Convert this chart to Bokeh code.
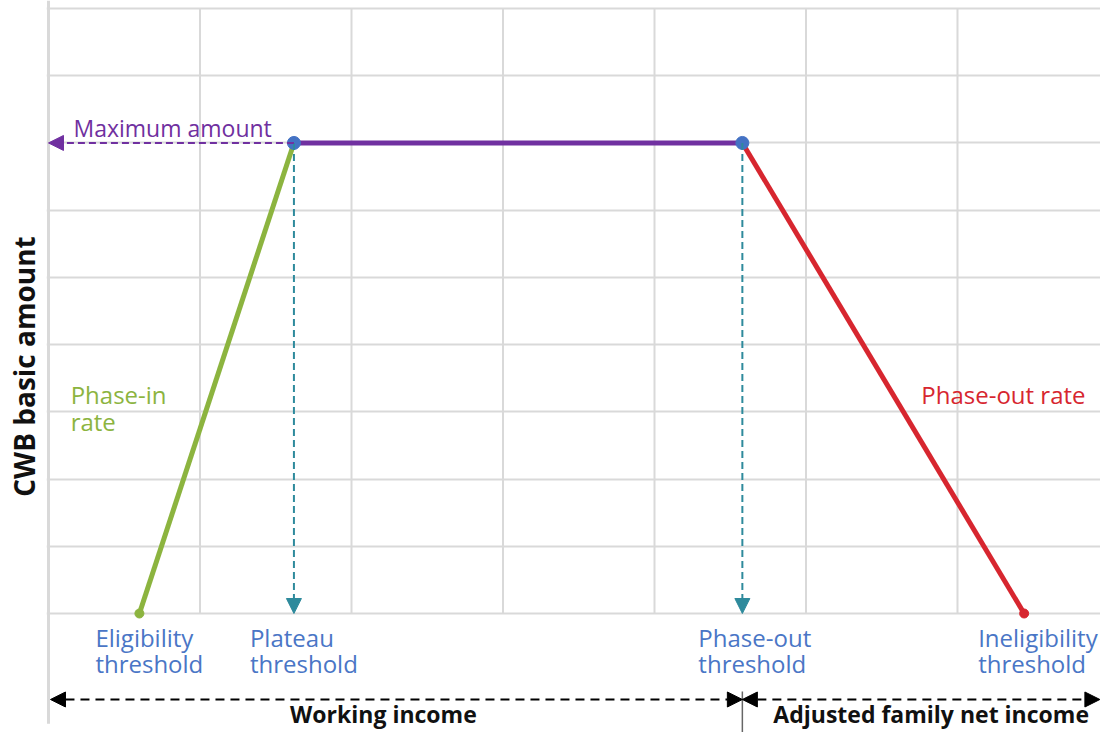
from bokeh.plotting import figure
from bokeh.models import Range1d, FixedTicker, Arrow, NormalHead
from bokeh.embed import file_html
from bokeh.resources import INLINE
from bokeh.core.properties import value

# ---------------- data (in grid units) ----------------
threshold_names = ["Eligibility\nthreshold", "Plateau\nthreshold",
                   "Phase-out\nthreshold", "Ineligibility\nthreshold"]
threshold_income = [0.60, 1.62, 4.58, 6.44]
cwb_amount = [0, 7, 7, 0]
rate_labels = ["Phase-in\nrate", "Maximum amount", "Phase-out rate"]
income_labels = ["Working income", "Adjusted family net income"]
y_axis_title = "CWB basic amount"
grid_income = [1, 2, 3, 4, 5, 6]
grid_amount = [0, 1, 2, 3, 4, 5, 6, 7, 8, 9]

# ---------------- styles ----------------
FONT = "Open Sans"
GRID = "#d9d9d9"
GREEN = "#8cb43f"
PURPLE = "#7030a0"
RED = "#d7262f"
DOT_BLUE = "#4472c4"
LABEL_BLUE = "#4a76c6"
TEAL = "#2e8a9c"

X0, X1 = -0.0132, 6.944
Y0, Y1 = -1.770, 9.119

p = figure(width=1100, height=732,
           x_range=Range1d(X0, X1), y_range=Range1d(Y0, Y1),
           output_backend="svg", toolbar_location=None,
           x_axis_location=None,
           min_border_left=46, min_border_right=0,
           min_border_top=0, min_border_bottom=0)
p.outline_line_color = None
p.background_fill_color = "white"
p.border_fill_color = "white"
p.xgrid.visible = False

# horizontal grid
p.ygrid.ticker = FixedTicker(ticks=grid_amount)
p.ygrid.bounds = (Y0, Y1)
p.ygrid.grid_line_color = GRID
p.ygrid.grid_line_width = 2

# y axis: only the title
p.yaxis.ticker = FixedTicker(ticks=[])
p.yaxis.axis_line_color = None
p.yaxis.major_tick_line_color = None
p.yaxis.minor_tick_line_color = None
p.yaxis.axis_label = y_axis_title
p.yaxis.axis_label_text_font = FONT
p.yaxis.axis_label_text_font_size = "28px"
p.yaxis.axis_label_text_font_style = "bold"
p.yaxis.axis_label_text_color = "#111111"
p.yaxis.axis_label_standoff = 4
p.yaxis.major_label_standoff = 0

# vertical grid lines (stop at the zero line)
p.segment(x0=grid_income, y0=[0] * len(grid_income), x1=grid_income,
          y1=[max(grid_amount)] * len(grid_income), line_color=GRID, line_width=2)
# left axis rule
p.segment(x0=[0], y0=[-1.64], x1=[0], y1=[Y1], line_color=GRID, line_width=3)

# series lines
p.line(threshold_income[0:2], cwb_amount[0:2], line_color=GREEN, line_width=5)
p.line(threshold_income[1:3], cwb_amount[1:3], line_color=PURPLE, line_width=5)
p.line(threshold_income[2:4], cwb_amount[2:4], line_color=RED, line_width=5)

# dashed drops to thresholds
for i in (1, 2):
    p.add_layout(Arrow(x_start=threshold_income[i], y_start=cwb_amount[i],
                       x_end=threshold_income[i], y_end=0,
                       line_color=TEAL, line_width=2, line_dash="7 4",
                       end=NormalHead(size=15, fill_color=TEAL, line_color=TEAL)))
# dashed arrow to maximum amount on the axis
p.add_layout(Arrow(x_start=threshold_income[1], y_start=cwb_amount[1],
                   x_end=0, y_end=cwb_amount[1],
                   line_color=PURPLE, line_width=2, line_dash="7 4",
                   end=NormalHead(size=15, fill_color=PURPLE, line_color=PURPLE)))

# points
p.scatter(threshold_income[1:3], cwb_amount[1:3], size=13, color=DOT_BLUE)
p.scatter(threshold_income[0:1], cwb_amount[0:1], size=9, color=GREEN)
p.scatter(threshold_income[3:4], cwb_amount[3:4], size=9, color=RED)

# threshold labels
p.text(x=threshold_income, y=[0] * 4, text=threshold_names,
       x_offset=[-44, -44, -44, -46], y_offset=7,
       text_align="left", text_baseline="top",
       text_font=value(FONT), text_font_size="24px", text_color=LABEL_BLUE,
       text_line_height=0.8)

# rate labels
mid_in = ((threshold_income[0] + threshold_income[1]) / 2, (cwb_amount[0] + cwb_amount[1]) / 2)
mid_out = ((threshold_income[2] + threshold_income[3]) / 2, (cwb_amount[2] + cwb_amount[3]) / 2)
p.text(x=[mid_in[0]], y=[mid_in[1]], text=[rate_labels[0]],
       x_offset=-146, y_offset=0, text_align="left", text_baseline="top",
       text_font=value(FONT), text_font_size="24px", text_color=GREEN,
       text_line_height=0.8)
p.text(x=[0], y=[cwb_amount[1]], text=[rate_labels[1]],
       x_offset=25, y_offset=-15, text_align="left", text_baseline="alphabetic",
       text_font=value(FONT), text_font_size="23px", text_color=PURPLE)
p.text(x=[mid_out[0]], y=[mid_out[1]], text=[rate_labels[2]],
       x_offset=38, y_offset=0, text_align="left", text_baseline="top",
       text_font=value(FONT), text_font_size="24px", text_color=RED)

# bottom income arrows
ya = -1.279
head = dict(size=15, fill_color="black", line_color="black")
p.add_layout(Arrow(x_start=0.013, y_start=ya, x_end=threshold_income[2], y_end=ya,
                   line_color="black", line_width=2, line_dash="9 6",
                   start=NormalHead(**head), end=NormalHead(**head)))
p.add_layout(Arrow(x_start=threshold_income[2], y_start=ya, x_end=X1 - 0.004, y_end=ya,
                   line_color="black", line_width=2, line_dash="9 6",
                   start=NormalHead(**head), end=NormalHead(**head)))
p.segment(x0=[threshold_income[2]], y0=[-1.16], x1=[threshold_income[2]], y1=[Y0],
          line_color="#666666", line_width=1.5)

p.text(x=[threshold_income[2] / 2], y=[ya], text=[income_labels[0]],
       x_offset=-12, y_offset=15, text_align="center", text_baseline="alphabetic",
       text_font=value(FONT), text_font_size="23px", text_font_style="bold",
       text_color="#111111")
p.text(x=[threshold_income[2]], y=[ya], text=[income_labels[1]],
       x_offset=31, y_offset=15, text_align="left", text_baseline="alphabetic",
       text_font=value(FONT), text_font_size="23px", text_font_style="bold",
       text_color="#111111")

open("out.html", "w").write(file_html(p, INLINE))
